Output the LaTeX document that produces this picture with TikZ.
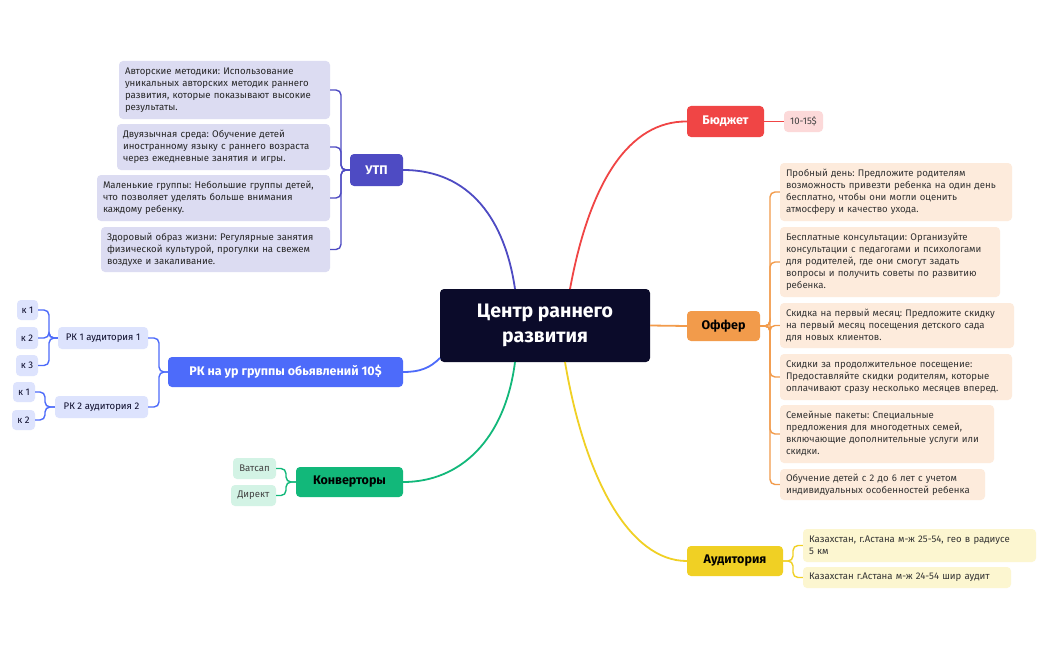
\documentclass[tikz,border=0pt]{standalone}
\usepackage{fontspec}
\setmainfont{Fira Sans}
\frenchspacing
\usetikzlibrary{calc}
\definecolor{cdark}{HTML}{0B0B2A}
\definecolor{cutp}{HTML}{4E4BC3}\definecolor{futp}{HTML}{DCDCF2}
\definecolor{crk}{HTML}{4D6BFA}\definecolor{frk}{HTML}{DDE3FD}
\definecolor{ckon}{HTML}{12B87A}\definecolor{fkon}{HTML}{D3F3E5}
\definecolor{cbud}{HTML}{F04545}\definecolor{fbud}{HTML}{FCD9D9}
\definecolor{coff}{HTML}{F29B4B}\definecolor{foff}{HTML}{FDEBDC}
\definecolor{caud}{HTML}{F0D024}\definecolor{faud}{HTML}{FCF6D0}
\tikzset{
 bx/.style={rounded corners=4pt,inner sep=0pt,align=left,font=\fontsize{9.6}{12}\selectfont},
 mainn/.style={rounded corners=4pt,inner sep=0pt,align=center,font=\fontsize{12.5}{14}\selectfont\bfseries},
 br/.style={line width=1.4pt,rounded corners=5pt},
 cn/.style={line width=1.8pt},
}
% name, x1,y1,x2,y2, style, text
\newcommand\mybx[7]{\node[bx,#6,minimum width={(#4-#2)*1pt},minimum height={(#5-#3)*1pt},text width={(#4-#2-12)*1pt}] (#1) at ({(#2+#4)/2},{(#3+#5)/2}) {#7};}
\newcommand\mysm[7]{\node[bx,align=center,#6,minimum width={(#4-#2)*1pt},minimum height={(#5-#3)*1pt}] (#1) at ({(#2+#4)/2},{(#3+#5)/2}) {#7};}
\newcommand\mymain[7]{\node[mainn,#6,minimum width={(#4-#2)*1pt},minimum height={(#5-#3)*1pt}] (#1) at ({(#2+#4)/2},{(#3+#5)/2}) {#7};}
\begin{document}
\begin{tikzpicture}[x=1pt,y=-1pt]
\useasboundingbox[fill=white] (0,0) rectangle (1048,650);
% center
\node[rounded corners=4pt,fill=cdark,text=white,minimum width=210pt,minimum height=73pt,align=center,font=\fontsize{19.5}{25}\selectfont\bfseries] (c) at (545,325.5) {Центр раннего\\развития};
% main nodes
\mymain{utp}{350}{154}{403}{186}{fill=cutp,text=white}{УТП}
\mymain{rk}{168}{357}{403}{387}{fill=crk,text=white}{РК на ур группы обьявлений 10\$}
\mymain{kon}{296}{467}{403}{497}{fill=ckon,text=black}{Конверторы}
\mymain{bud}{687}{106}{764}{137}{fill=cbud,text=white}{Бюджет}
\mymain{off}{687}{311}{760}{341}{fill=coff,text=black}{Оффер}
\mymain{aud}{687}{546}{783}{576}{fill=caud,text=black}{Аудитория}
% main connectors
\coordinate (c1) at (515,289); \coordinate (c2) at (570,289);
\coordinate (c3) at (515,362); \coordinate (c4) at (565,362);
\coordinate (c5) at (440,358);
\draw[cn,cutp] (c1) .. controls (505,220) and (470,170) .. (utp.east);
\draw[cn,cbud] (c2) .. controls (590,180) and (630,121) .. (bud.west);
\draw[cn,coff] (c.east) -- (off.west);
\draw[cn,caud] (c4) .. controls (585,480) and (630,561) .. (aud.west);
\draw[cn,ckon] (c3) .. controls (505,440) and (460,482) .. (kon.east);
\draw[cn,crk] (c5) .. controls (430,368) and (420,372) .. (rk.east);
% УТП children
\mybx{u1}{119}{61}{330}{119}{fill=futp,text=black!85}{Авторские методики: Использование\\уникальных авторских методик раннего\\развития, которые показывают высокие\\результаты.}
\mybx{u2}{117}{124}{330}{170}{fill=futp,text=black!85}{Двуязычная среда: Обучение детей\\иностранному языку с раннего возраста\\через ежедневные занятия и игры.}
\mybx{u3}{97}{175}{330}{221}{fill=futp,text=black!85}{Маленькие группы: Небольшие группы детей,\\что позволяет уделять больше внимания\\каждому ребенку.}
\mybx{u4}{101}{227}{330}{272}{fill=futp,text=black!85}{Здоровый образ жизни: Регулярные занятия\\физической культурой, прогулки на свежем\\воздухе и закаливание.}
\foreach \n in {u1,u2,u3,u4}{\draw[br,cutp] (utp.west) -- (341,170) |- (\n.east);}
% РК children
\mysm{r1}{58}{327}{148}{349}{fill=frk,text=cdark}{РК 1 аудитория 1}
\mysm{r2}{55}{396}{148}{418}{fill=frk,text=cdark}{РК 2 аудитория 2}
\foreach \n in {r1,r2}{\draw[br,crk] (rk.west) -- (159,372) |- (\n.east);}
\mysm{k1}{17}{300}{38}{320}{fill=frk,text=cdark}{к 1}
\mysm{k2}{16}{327}{38}{349}{fill=frk,text=cdark}{к 2}
\mysm{k3}{16}{355}{38}{376}{fill=frk,text=cdark}{к 3}
\foreach \n in {k1,k2,k3}{\draw[br,crk] (r1.west) -- (49,338) |- (\n.east);}
\mysm{m1}{13}{382}{35}{402}{fill=frk,text=cdark}{к 1}
\mysm{m2}{12}{410}{35}{430}{fill=frk,text=cdark}{к 2}
\foreach \n in {m1,m2}{\draw[br,crk] (r2.west) -- (45,407) |- (\n.east);}
% Конверторы
\mysm{v1}{233}{458}{276}{479}{fill=fkon,text=black!75}{Ватсап}
\mysm{v2}{231}{485}{276}{506}{fill=fkon,text=black!75}{Директ}
\foreach \n in {v1,v2}{\draw[br,ckon] (kon.west) -- (286,482) |- (\n.east);}
% Бюджет
\mysm{b1}{784}{111}{823}{132}{fill=fbud,text=black!75}{10-15\$}
\draw[br,cbud] (bud.east) -- (b1.west);
% Оффер
\mybx{o1}{780}{163}{1012}{221}{fill=foff,text=black!80}{Пробный день: Предложите родителям\\возможность привезти ребенка на один день\\бесплатно, чтобы они могли оценить\\атмосферу и качество ухода.}
\mybx{o2}{780}{227}{1000}{297}{fill=foff,text=black!80}{Бесплатные консультации: Организуйте\\консультации с педагогами и психологами\\для родителей, где они смогут задать\\вопросы и получить советы по развитию\\ребенка.}
\mybx{o3}{780}{303}{1014}{348}{fill=foff,text=black!80}{Скидка на первый месяц: Предложите скидку\\на первый месяц посещения детского сада\\для новых клиентов.}
\mybx{o4}{780}{354}{1012}{400}{fill=foff,text=black!80}{Скидки за продолжительное посещение:\\Предоставляйте скидки родителям, которые\\оплачивают сразу несколько месяцев вперед.}
\mybx{o5}{780}{405}{994}{463}{fill=foff,text=black!80}{Семейные пакеты: Специальные\\предложения для многодетных семей,\\включающие дополнительные услуги или\\скидки.}
\mybx{o6}{780}{469}{985}{500}{fill=foff,text=black!80}{Обучение детей с 2 до 6 лет с учетом\\индивидуальных особенностей ребенка}
\foreach \n in {o1,o2,o3,o4,o5,o6}{\draw[br,coff] (off.east) -- (770,326) |- (\n.west);}
% Аудитория
\mybx{a1}{803}{529}{1036}{562}{fill=faud,text=black!80}{Казахстан, г.Астана м-ж 25-54, гео в радиусе\\5 км}
\mybx{a2}{803}{567}{1011}{588}{fill=faud,text=black!80}{Казахстан г.Астана м-ж 24-54 шир аудит}
\foreach \n in {a1,a2}{\draw[br,caud] (aud.east) -- (793,561) |- (\n.west);}
\end{tikzpicture}
\end{document}
